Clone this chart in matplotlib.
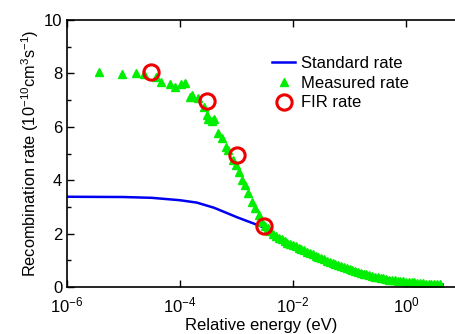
import matplotlib
matplotlib.use("Agg")
import matplotlib.pyplot as plt
import numpy as np
from matplotlib.ticker import FixedLocator, NullLocator

plt.rcParams['font.family'] = ['Liberation Sans', 'DejaVu Sans']
plt.rcParams['mathtext.fontset'] = 'custom'
plt.rcParams['mathtext.rm'] = 'Liberation Sans'
plt.rcParams['mathtext.it'] = 'Liberation Sans'

# standard rate (log10 of energy in eV, rate in 1e-10 cm^3/s)
std_logE = [-6.0, -5.0, -4.5, -4.0, -3.7, -3.4, -3.17, -3.0, -2.75, -2.5, -2.25,
            -2.0, -1.75, -1.5, -1.25, -1.0, -0.75, -0.5, -0.25, 0.0, 0.25, 0.5, 0.65]
std_rate = [3.38, 3.37, 3.34, 3.25, 3.16, 2.97, 2.77, 2.62, 2.42, 2.22, 1.87,
            1.53, 1.30, 1.08, 0.88, 0.69, 0.53, 0.39, 0.29, 0.21, 0.15, 0.11, 0.09]

# measured rate
meas_logE = [-5.43, -5.03, -4.78, -4.64, -4.42, -4.33, -4.18, -4.08, -3.98, -3.92,
             -3.82, -3.78, -3.68, -3.58, -3.53, -3.50, -3.44, -3.39, -3.32, -3.26,
             -3.19, -3.15, -3.07, -3.01, -2.96, -2.90, -2.85, -2.79, -2.73, -2.67,
             -2.61, -2.55,
             -2.50, -2.45, -2.40, -2.35, -2.30, -2.25, -2.20, -2.15, -2.10, -2.05,
             -2.00, -1.95, -1.90, -1.85, -1.80, -1.75, -1.70, -1.65, -1.60, -1.55,
             -1.50, -1.45, -1.40, -1.35, -1.30, -1.25, -1.20, -1.15, -1.10, -1.05,
             -1.00, -0.95, -0.90, -0.85, -0.80, -0.75, -0.70, -0.65, -0.60, -0.55,
             -0.50, -0.45, -0.40, -0.35, -0.30, -0.25, -0.20, -0.15, -0.10, -0.05,
             0.00, 0.05, 0.10, 0.15, 0.20, 0.25, 0.30, 0.35, 0.40, 0.45,
             0.50, 0.55, 0.60]
meas_rate = [8.06, 7.97, 8.00, 7.97, 7.88, 7.67, 7.59, 7.49, 7.61, 7.64,
             7.13, 7.19, 7.07, 6.75, 6.44, 6.29, 6.23, 6.28, 5.78, 5.57,
             5.25, 5.13, 4.76, 4.57, 4.32, 4.01, 3.82, 3.51, 3.19, 2.95,
             2.70, 2.45,
             2.30, 2.20, 2.08, 1.98, 1.90, 1.84, 1.78, 1.72, 1.66, 1.62,
             1.57, 1.52, 1.47, 1.42, 1.37, 1.32, 1.27, 1.22, 1.17, 1.12,
             1.07, 1.03, 0.99, 0.95, 0.90, 0.86, 0.82, 0.78, 0.74, 0.70,
             0.66, 0.63, 0.60, 0.56, 0.53, 0.50, 0.47, 0.44, 0.41, 0.39,
             0.36, 0.34, 0.32, 0.30, 0.28, 0.26, 0.25, 0.23, 0.22, 0.21,
             0.20, 0.19, 0.18, 0.17, 0.16, 0.15, 0.14, 0.13, 0.13, 0.12,
             0.12, 0.11, 0.11]

# FIR rate
fir_E = [3.1e-5, 3.0e-4, 1.0e-3, 3.1e-3]
fir_rate = [8.04, 6.98, 4.94, 2.28]

fig = plt.figure(figsize=(4.56, 3.34), dpi=100)
ax = fig.add_axes([67/456, 47/334, 1 - 67/456, 267/334])

ax.plot(10**np.array(std_logE), std_rate, color='#0000f0', lw=1.8, label='Standard rate')
ax.plot(10**np.array(meas_logE), meas_rate, ls='none', marker='^', ms=6,
        color='#00ee00', mec='#00ee00', label='Measured rate')
ax.plot(fir_E, fir_rate, ls='none', marker='o', ms=11, mfc='none',
        mec='#ee0000', mew=2.2, label='FIR rate')

ax.set_xscale('log')
ax.set_xlim(1e-6, 10**((456 - 67) / 56.5 - 6))
ax.set_ylim(0, 10)
ax.xaxis.set_major_locator(FixedLocator([1e-6, 1e-4, 1e-2, 1e0]))
ax.xaxis.set_minor_locator(NullLocator())
ax.set_xticklabels(['10$^{-6}$', '10$^{-4}$', '10$^{-2}$', '10$^{0}$'])
ax.set_yticks([0, 2, 4, 6, 8, 10])
ax.set_yticks([1, 3, 5, 7, 9], minor=True)
ax.tick_params(which='both', direction='in', top=True, right=False, labelsize=12, width=1)
ax.tick_params(which='major', length=5)
ax.tick_params(which='minor', length=3)
ax.tick_params(axis='x', pad=6)
ax.spines['right'].set_visible(False)
for s in ['left', 'bottom', 'top']:
    ax.spines[s].set_linewidth(1.2)

ax.set_xlabel('Relative energy (eV)', fontsize=12, labelpad=2)
ax.set_ylabel('Recombination rate (10$^{-10}$cm$^{3}$s$^{-1}$)', fontsize=11.8, labelpad=2)

ax.legend(loc='upper left', bbox_to_anchor=(0.51, 0.89), frameon=False, fontsize=12,
          handlelength=1.4, handletextpad=0.35, labelspacing=0.28, borderaxespad=0,
          numpoints=1)

fig.savefig('out.png', dpi=100)
